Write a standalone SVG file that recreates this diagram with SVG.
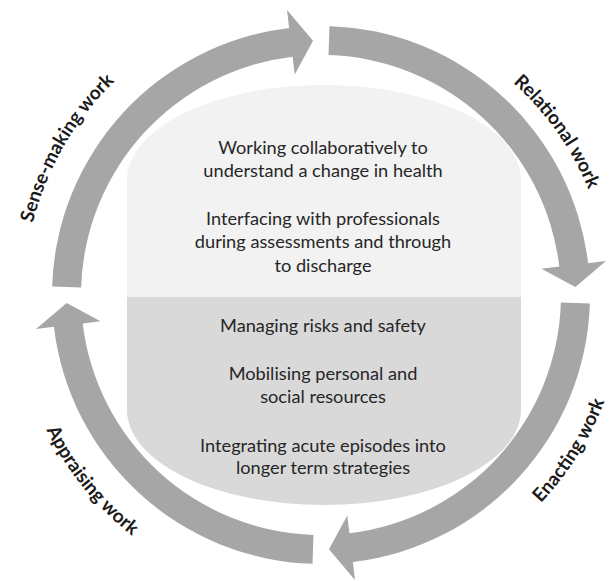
<svg xmlns="http://www.w3.org/2000/svg" xmlns:xlink="http://www.w3.org/1999/xlink" width="616" height="581" viewBox="0 0 616 581">
<style>
.arrow{fill:#a6a6a6}
.body{font-family:Lato,"Open Sans","Liberation Sans",sans-serif;font-size:18.2px;fill:#262626;text-anchor:middle}
.label{font-family:Lato,"Open Sans","Liberation Sans",sans-serif;font-size:19px;font-weight:bold;fill:#1a1a1a;text-anchor:middle}
</style>
<defs>
<path id="arrowShape" d="M52.13,286.55 A269,269 0 0 1 289.15,27.89 L287.02,10.02 L313.01,40.63 L294.71,74.56 L292.58,56.69 A240,240 0 0 0 81.12,287.46 Z"/>
<clipPath id="barrelClip"><rect x="127" y="85" width="394" height="420" rx="197" ry="95"/></clipPath>
<path id="arcSense" d="M28.51,346.57 A297,297 0 0 1 219.42,15.91" fill="none"/>
<path id="arcRel" d="M397,20 A289,289 0 0 1 609,320" fill="none"/>
<path id="arcEnact" d="M414.63,583.17 A304,304 0 0 0 621.05,252.83" fill="none"/>
<path id="arcApp" d="M15.05,289.66 A306,306 0 0 0 262.61,595.38" fill="none"/>
</defs>
<rect width="616" height="581" fill="#ffffff"/>
<g id="connectors">
<use id="arrow-sense" class="arrow" xlink:href="#arrowShape" href="#arrowShape"/>
<use id="arrow-relational" class="arrow" xlink:href="#arrowShape" href="#arrowShape" transform="rotate(90 321 295)"/>
<use id="arrow-enacting" class="arrow" xlink:href="#arrowShape" href="#arrowShape" transform="rotate(180 321 295)"/>
<use id="arrow-appraising" class="arrow" xlink:href="#arrowShape" href="#arrowShape" transform="rotate(270 321 295)"/>
</g>
<g id="labels">
<text class="label"><textPath xlink:href="#arcSense" href="#arcSense" startOffset="50%">Sense-making work</textPath></text>
<text class="label"><textPath xlink:href="#arcRel" href="#arcRel" startOffset="50%">Relational work</textPath></text>
<text class="label"><textPath xlink:href="#arcEnact" href="#arcEnact" startOffset="50%">Enacting work</textPath></text>
<text class="label"><textPath xlink:href="#arcApp" href="#arcApp" startOffset="50%">Appraising work</textPath></text>
</g>
<g id="node-top">
<rect x="0" y="0" width="616" height="297" fill="#f2f2f2" clip-path="url(#barrelClip)"/>
<text class="body" x="323" y="154">Working collaboratively to</text>
<text class="body" x="323" y="177">understand a change in health</text>
<text class="body" x="323" y="225">Interfacing with professionals</text>
<text class="body" x="323" y="248">during assessments and through</text>
<text class="body" x="323" y="272">to discharge</text>
</g>
<g id="node-bottom">
<rect x="0" y="297" width="616" height="284" fill="#d9d9d9" clip-path="url(#barrelClip)"/>
<text class="body" x="323" y="332">Managing risks and safety</text>
<text class="body" x="323" y="380">Mobilising personal and</text>
<text class="body" x="323" y="403">social resources</text>
<text class="body" x="323" y="452">Integrating acute episodes into</text>
<text class="body" x="323" y="474">longer term strategies</text>
</g>
</svg>
